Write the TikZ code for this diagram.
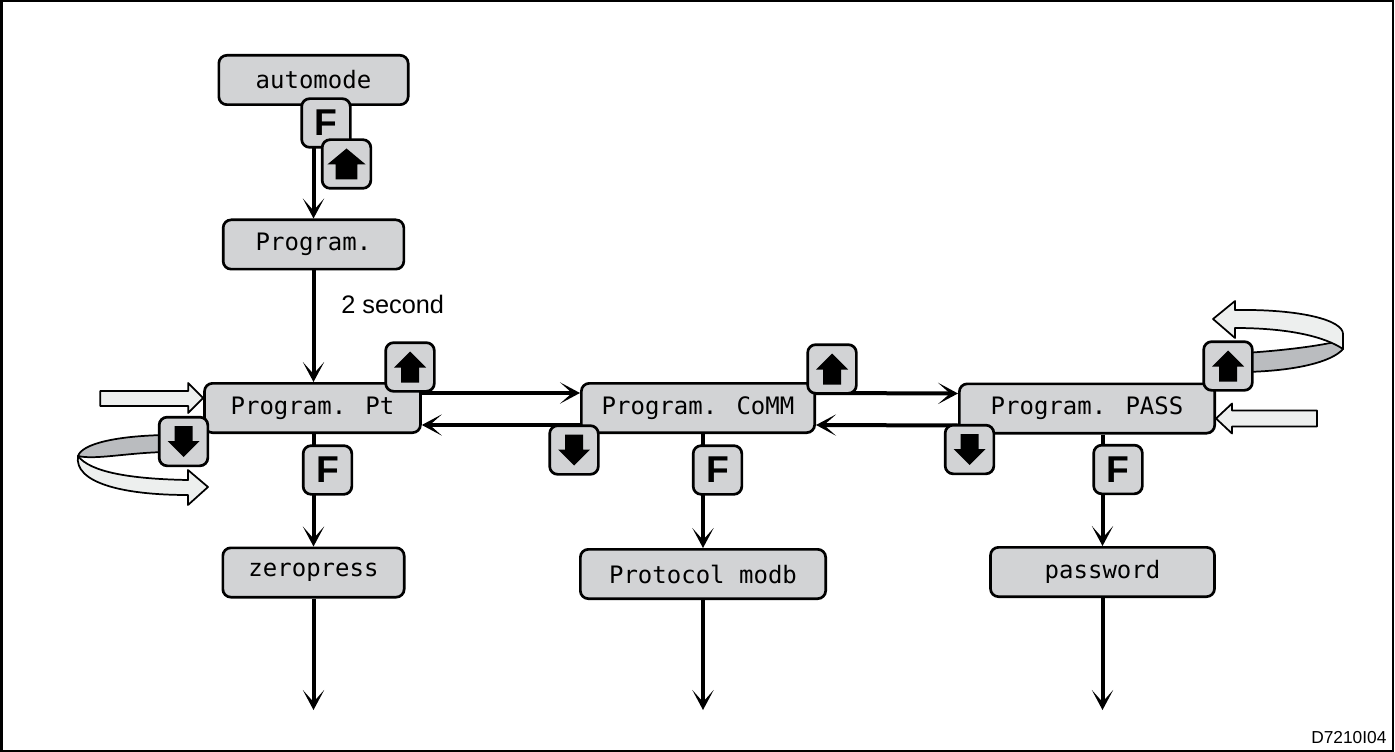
\documentclass[tikz,border=0pt]{standalone}
\usepackage{fontspec}
\usepackage{xcolor}
\usepackage{tikz}
\usetikzlibrary{arrows.meta, calc}
\newfontfamily\lcdfont{DejaVu Sans Mono}
\newfontfamily\labelfont{Liberation Sans}
\definecolor{lcdgray}{RGB}{210,211,213}
\definecolor{bandlight}{RGB}{237,239,238}
\definecolor{banddark}{RGB}{186,188,191}
\tikzset{
	lcd/.style={draw, line width=2pt, rounded corners=6pt, fill=lcdgray, minimum height=37pt, inner sep=0pt, font=\lcdfont\fontsize{18}{20}\selectfont},
	keybtn/.style={draw, line width=2pt, rounded corners=6pt, fill=lcdgray, minimum width=36.5pt, minimum height=36.5pt, inner sep=0pt}
}
\newcommand{\arrowkey}[4]{%
	\node[keybtn] (#1) at (#2) {};
	\fill[shift={(#1.center)}, xscale=#4, yscale=#3] (0,-15.5) -- (16,0.5) -- (9,0.5) -- (9,15.5) -- (-9,15.5) -- (-9,0.5) -- (-16,0.5) -- cycle;
}

\begin{document}
\begin{tikzpicture}[
	x=0.75pt, y=-0.75pt,
	flow/.style={line width=3pt, -{Stealth[length=15pt, width=16pt, inset=9pt]}},
	band/.style={draw, line width=1.3pt, line join=round},
	fkey/.style={keybtn, font=\labelfont\bfseries\fontsize{28}{28}\selectfont}]
	\useasboundingbox (0,0) rectangle (1395,752);
	\draw[line width=1.5pt] (1.5,1.5) rectangle (1393,750.5);
	\node[lcd, minimum width=142pt] (auto) at (313.5,80) {automode};
	\node[lcd, minimum width=135.5pt] (prog) at (313.5,244.5) {Program.};
	\node[lcd, minimum width=162pt] (pt) at (312.5,408) {Program. Pt};
	\node[lcd, minimum width=175pt] (comm) at (698,408) {Program. CoMM};
	\node[lcd, minimum width=191.5pt] (pass) at (1087,408.5) {Program. PASS};
	\node[lcd, minimum width=136pt] (zero) at (313.5,572.5) {zeropress};
	\node[lcd, minimum width=184pt] (modb) at (703,574) {Protocol modb};
	\node[lcd, minimum width=168pt] (pwd) at (1102.5,572) {password};
	\coordinate (zeroend) at (313.5,710);
	\coordinate (modbend) at (703,710);
	\coordinate (pwdend) at (1102.5,710);
	\node[font=\labelfont\fontsize{19}{19}\selectfont, anchor=base west, inner sep=0pt] (wait) at (341,313) {2 second};
	\node[font=\labelfont\fontsize{13}{13}\selectfont, anchor=base west, inner sep=0pt] (code) at (1311,743) {D7210I04};
	\draw[flow] (auto) -- (prog);
	\draw[flow] (prog.south) -- (prog.south |- pt.north);
	\draw[flow] (pt.south -| zero.north) -- (zero.north);
	\draw[flow] (comm.south -| modb.north) -- (modb.north);
	\draw[flow] (pass.south -| pwd.north) -- (pwd.north);
	\draw[flow] (zero) -- (zeroend);
	\draw[flow] (modb) -- (modbend);
	\draw[flow] (pwd) -- (pwdend);
	\draw[flow] ($(pt.east)+(0,-15)$) -- ($(comm.west)+(0,-15)$);
	\draw[flow] ($(comm.west)+(0,17)$) -- ($(pt.east)+(0,17)$);
	\draw[flow] ($(comm.east)+(0,-15)$) -- ($(pass.west)+(0,-15)$);
	\draw[flow] ($(pass.west)+(0,17)$) -- ($(comm.east)+(0,17)$);
	\draw[band, fill=bandlight, shift={($(pt.west)+(0,-10)$)}] (-103,-7) -- (-15,-7) -- (-15,-15) -- (0,0) -- (-15,15) -- (-15,8) -- (-103,8) -- cycle;
	\draw[band, fill=bandlight, shift={($(pass.east)+(0,10)$)}] (101,-8) -- (16,-8) -- (16,-15) -- (0,0) -- (16,15) -- (16,8) -- (101,8) -- cycle;
	\draw[band, fill=banddark] (165,435) .. controls (115,436) and (82,444) .. (78,456) .. controls (95,460) and (125,453) .. (165,452) -- cycle;
	\draw[band, fill=bandlight] (78,456) .. controls (74,482) and (120,495) .. (188,495) -- (188,505) -- (208,487) -- (188,470) -- (188,480) .. controls (130,479) and (90,472) .. (78,456) -- cycle;
	\draw[band, fill=banddark] (1245,353) .. controls (1290,350) and (1325,345) .. (1343,340) -- (1343,349) .. controls (1332,362) and (1295,371) .. (1245,372) -- cycle;
	\draw[band, fill=bandlight] (1235,310) .. controls (1300,309) and (1343,320) .. (1343,334) -- (1343,349) .. controls (1325,337) and (1290,328) .. (1235,328) -- (1235,338) -- (1213,319) -- (1235,301) -- cycle;
	\node[fkey] (fauto) at (326,123) {F};
	\arrowkey{upauto}{346.5,164}{1}{1.2}
	\node[fkey] (fpt) at (327.5,470) {F};
	\node[fkey] (fcomm) at (717.5,470) {F};
	\node[fkey] (fpass) at (1118,469.5) {F};
	\arrowkey{uppt}{410,367}{1}{1}
	\arrowkey{downpt}{183.5,441.5}{-1}{1}
	\arrowkey{upcomm}{832,369}{1}{1}
	\arrowkey{downcomm}{574,450}{-1}{1}
	\arrowkey{uppass}{1228,366}{1}{1}
	\arrowkey{downpass}{969.5,449.5}{-1}{1}
\end{tikzpicture}
\end{document}
